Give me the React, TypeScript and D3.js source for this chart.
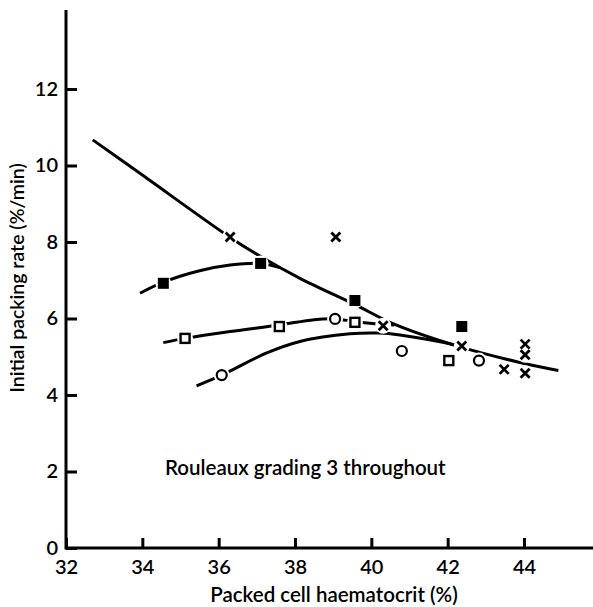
import React, { useEffect, useRef } from "react";
import * as d3 from "d3";

// tick values
const xTicks = [32, 34, 36, 38, 40, 42, 44];
const yTicks = [0, 2, 4, 6, 8, 10, 12];

// crosses
const crossX = [36.3, 39.07, 40.31, 42.37, 43.48, 44.03, 44.03, 44.03];
const crossY = [8.13, 8.13, 5.81, 5.28, 4.67, 5.33, 5.05, 4.57];

// filled squares
const filledX = [34.55, 37.1, 39.57, 42.37];
const filledY = [6.92, 7.44, 6.47, 5.79];

// open squares
const openSqX = [35.12, 37.59, 39.57, 42.03];
const openSqY = [5.48, 5.79, 5.9, 4.9];

// open circles
const circleX = [36.08, 39.05, 40.8, 42.82];
const circleY = [4.52, 5.99, 5.15, 4.9];

// fitted curves
const mainCurveX = [32.7, 34, 36.3, 37.1, 38.13, 39.6, 40.6, 42.15, 43.81, 44.9];
const mainCurveY = [10.67, 9.75, 8.12, 7.62, 7.05, 6.35, 5.85, 5.31, 4.87, 4.64];
const filledCurveX = [33.94, 34.55, 35.5, 36.3, 37.1, 37.6];
const filledCurveY = [6.66, 6.95, 7.25, 7.4, 7.44, 7.33];
const openSqCurveX = [34.55, 35.12, 36.3, 37.59, 38.5, 39.05, 39.57, 40.31, 40.6];
const openSqCurveY = [5.37, 5.48, 5.66, 5.83, 5.97, 5.99, 5.92, 5.84, 5.83];
const circleCurveX = [35.42, 36.08, 37.26, 38.13, 39.44, 40.2, 40.75, 41.8, 42.3];
const circleCurveY = [4.24, 4.52, 5.1, 5.4, 5.6, 5.62, 5.57, 5.39, 5.28];

const FONT = "Lato, 'Open Sans', sans-serif";

const App = () => {
  const svgRef = useRef<SVGSVGElement | null>(null);

  useEffect(() => {
    drawChart();
  }, []);

  const drawChart = () => {
    const width = 593;
    const height = 607;

    const svg = d3
      .select(svgRef.current)
      .attr("width", width)
      .attr("height", height);
    svg.selectAll("*").remove();

    const x = d3.scaleLinear().domain([32, 44]).range([66, 524]);
    const y = d3.scaleLinear().domain([0, 12]).range([548, 89]);

    // curves
    const line = d3
      .line<[number, number]>()
      .x((d) => x(d[0]))
      .y((d) => y(d[1]))
      .curve(d3.curveCatmullRom.alpha(0.5));

    const curves = [
      [mainCurveX, mainCurveY],
      [filledCurveX, filledCurveY],
      [openSqCurveX, openSqCurveY],
      [circleCurveX, circleCurveY],
    ];
    curves.forEach(([cx, cy]) => {
      const pts = cx.map((v, i) => [v, cy[i]] as [number, number]);
      svg
        .append("path")
        .attr("d", line(pts))
        .attr("fill", "none")
        .attr("stroke", "#000")
        .attr("stroke-width", 3);
    });

    // white halos that break the lines around markers
    const allX = [...crossX, ...filledX, ...openSqX, ...circleX];
    const allY = [...crossY, ...filledY, ...openSqY, ...circleY];
    svg
      .append("g")
      .selectAll("circle")
      .data(allX.map((v, i) => [v, allY[i]]))
      .enter()
      .append("circle")
      .attr("cx", (d) => x(d[0]))
      .attr("cy", (d) => y(d[1]))
      .attr("r", 8)
      .attr("fill", "#fff");

    // crosses
    const cs = 4.5;
    const crossG = svg.append("g").attr("stroke", "#000").attr("stroke-width", 2.8);
    crossX.forEach((v, i) => {
      const px = x(v);
      const py = y(crossY[i]);
      crossG
        .append("path")
        .attr("d", `M${px - cs},${py - cs}L${px + cs},${py + cs}M${px - cs},${py + cs}L${px + cs},${py - cs}`);
    });

    // filled squares
    svg
      .append("g")
      .selectAll("rect")
      .data(filledX.map((v, i) => [v, filledY[i]]))
      .enter()
      .append("rect")
      .attr("x", (d) => x(d[0]) - 5.5)
      .attr("y", (d) => y(d[1]) - 5.5)
      .attr("width", 11)
      .attr("height", 11)
      .attr("fill", "#000");

    // open squares
    svg
      .append("g")
      .selectAll("rect")
      .data(openSqX.map((v, i) => [v, openSqY[i]]))
      .enter()
      .append("rect")
      .attr("x", (d) => x(d[0]) - 4.5)
      .attr("y", (d) => y(d[1]) - 4.5)
      .attr("width", 9)
      .attr("height", 9)
      .attr("fill", "#fff")
      .attr("stroke", "#000")
      .attr("stroke-width", 2.4);

    // open circles
    svg
      .append("g")
      .selectAll("circle")
      .data(circleX.map((v, i) => [v, circleY[i]]))
      .enter()
      .append("circle")
      .attr("cx", (d) => x(d[0]))
      .attr("cy", (d) => y(d[1]))
      .attr("r", 5)
      .attr("fill", "#fff")
      .attr("stroke", "#000")
      .attr("stroke-width", 2.2);

    // axes lines
    svg
      .append("line")
      .attr("x1", x(32))
      .attr("x2", width)
      .attr("y1", y(0))
      .attr("y2", y(0))
      .attr("stroke", "#000")
      .attr("stroke-width", 3);
    svg
      .append("line")
      .attr("x1", x(32))
      .attr("x2", x(32))
      .attr("y1", y(0) + 1.5)
      .attr("y2", 10)
      .attr("stroke", "#000")
      .attr("stroke-width", 3);

    // x ticks
    const xAxis = svg
      .append("g")
      .attr("transform", `translate(0,${y(0)})`)
      .call(d3.axisBottom(x).tickValues(xTicks).tickSizeInner(-10).tickSizeOuter(0).tickPadding(0));
    xAxis.select(".domain").remove();
    xAxis.selectAll(".tick line").attr("stroke", "#000").attr("stroke-width", 3);
    xAxis
      .selectAll(".tick text")
      .attr("y", 26)
      .attr("dy", 0)
      .style("font-family", FONT)
      .style("font-size", "20px")
      .style("font-weight", 600)
      .attr("fill", "#000");

    // y ticks
    const yAxis = svg
      .append("g")
      .attr("transform", `translate(${x(32)},0)`)
      .call(d3.axisLeft(y).tickValues(yTicks).tickSizeInner(-11).tickSizeOuter(0).tickPadding(0));
    yAxis.select(".domain").remove();
    yAxis.selectAll(".tick line").attr("stroke", "#000").attr("stroke-width", 3);
    yAxis
      .selectAll(".tick text")
      .attr("x", -8)
      .attr("dy", "0.3em")
      .style("font-family", FONT)
      .style("font-size", "20px")
      .style("font-weight", 600)
      .attr("fill", "#000");

    // X-axis label
    svg
      .append("text")
      .attr("x", 334)
      .attr("y", 602)
      .attr("text-anchor", "middle")
      .style("font-family", FONT)
      .style("font-size", "20.5px")
      .style("font-weight", 600)
      .text("Packed cell haematocrit (%)");

    // Y-axis label
    svg
      .append("text")
      .attr("transform", "translate(24,278) rotate(-90)")
      .attr("text-anchor", "middle")
      .style("font-family", FONT)
      .style("font-size", "19.5px")
      .style("font-weight", 600)
      .text("Initial packing rate (%/min)");

    // annotation
    svg
      .append("text")
      .attr("x", 165)
      .attr("y", 475)
      .style("font-family", FONT)
      .style("font-size", "20.5px")
      .style("font-weight", 600)
      .text("Rouleaux grading 3 throughout");
  };

  return <svg ref={svgRef} style={{ position: "absolute", left: 0, top: 0 }}></svg>;
};

export default App;
